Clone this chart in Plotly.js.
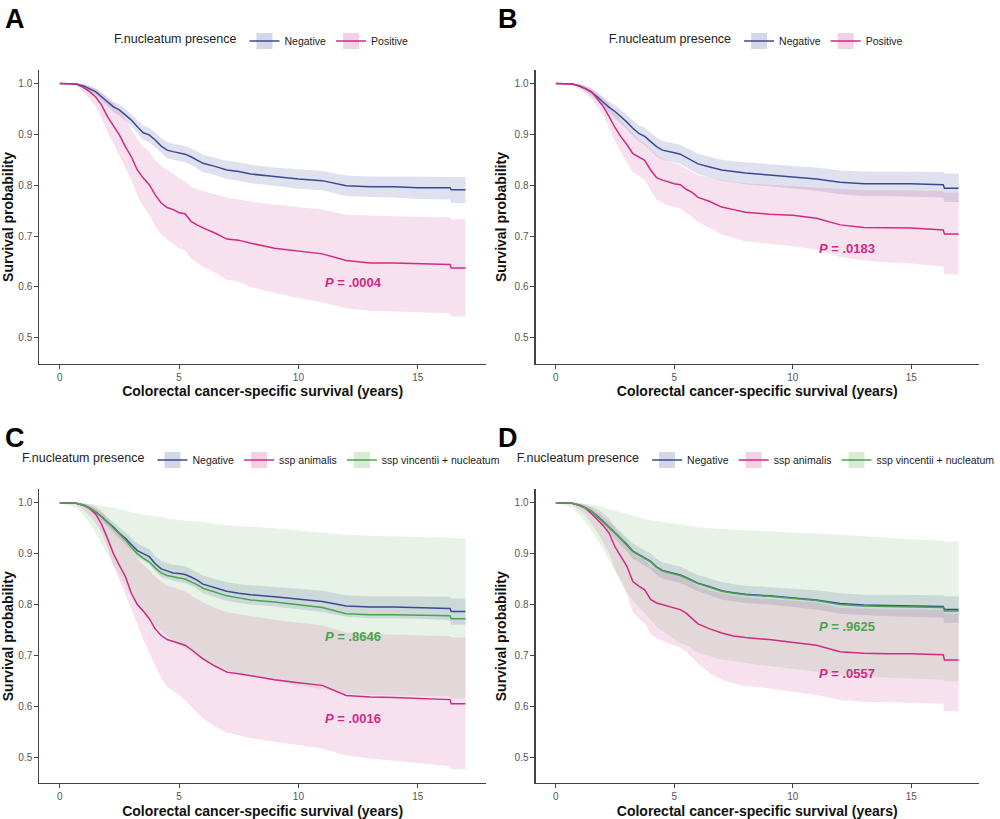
<!DOCTYPE html>
<html>
<head>
<meta charset="utf-8">
<script src="https://cdn.plot.ly/plotly-3.0.1.min.js"></script>
<style>html,body{margin:0;padding:0;background:#fff;}#chart{width:1000px;height:819px;}</style>
</head>
<body>
<div id="chart"></div>
<script>
// Time grid (years)
const times = [0, 0.7, 1.0, 1.25, 1.5, 1.75, 2.0, 2.25, 2.5, 2.75, 3.0, 3.25, 3.5, 3.75, 4.0, 4.25, 4.5, 4.75, 5.0, 5.25, 5.5, 5.75, 6.0, 6.5, 7.0, 7.5, 8, 9, 10, 11, 12, 13, 14, 15, 16.35, 16.4, 17];

// Panel A
const A_neg_surv = [1, 0.999, 0.995, 0.99, 0.984, 0.974, 0.964, 0.954, 0.948, 0.938, 0.928, 0.915, 0.903, 0.899, 0.889, 0.877, 0.869, 0.866, 0.864, 0.861, 0.856, 0.85, 0.843, 0.837, 0.83, 0.827, 0.822, 0.817, 0.812, 0.809, 0.799, 0.797, 0.797, 0.795, 0.795, 0.791, 0.791];
const A_neg_hi = [1, 1, 0.998, 0.995, 0.99, 0.982, 0.973, 0.964, 0.959, 0.95, 0.94, 0.928, 0.917, 0.913, 0.904, 0.892, 0.885, 0.882, 0.88, 0.877, 0.872, 0.867, 0.86, 0.854, 0.848, 0.845, 0.84, 0.835, 0.831, 0.828, 0.819, 0.817, 0.817, 0.816, 0.816, 0.816, 0.816];
const A_neg_lo = [1, 0.997, 0.992, 0.985, 0.978, 0.966, 0.955, 0.944, 0.937, 0.926, 0.916, 0.902, 0.889, 0.885, 0.874, 0.862, 0.853, 0.85, 0.848, 0.845, 0.84, 0.833, 0.826, 0.82, 0.812, 0.809, 0.804, 0.799, 0.793, 0.79, 0.779, 0.777, 0.776, 0.773, 0.772, 0.765, 0.765];
const A_pos_surv = [1, 0.999, 0.992, 0.984, 0.974, 0.958, 0.935, 0.918, 0.899, 0.876, 0.856, 0.83, 0.814, 0.801, 0.781, 0.765, 0.756, 0.752, 0.746, 0.744, 0.729, 0.722, 0.716, 0.706, 0.694, 0.692, 0.686, 0.676, 0.67, 0.665, 0.652, 0.647, 0.647, 0.646, 0.644, 0.637, 0.637];
const A_pos_hi = [1, 1, 0.999, 0.996, 0.99, 0.983, 0.972, 0.962, 0.95, 0.93, 0.908, 0.89, 0.876, 0.866, 0.85, 0.838, 0.83, 0.823, 0.812, 0.808, 0.797, 0.792, 0.788, 0.782, 0.776, 0.772, 0.768, 0.762, 0.757, 0.752, 0.742, 0.74, 0.739, 0.738, 0.737, 0.733, 0.733];
const A_pos_lo = [1, 0.995, 0.982, 0.97, 0.955, 0.932, 0.905, 0.882, 0.857, 0.833, 0.81, 0.78, 0.758, 0.742, 0.72, 0.703, 0.693, 0.685, 0.676, 0.672, 0.656, 0.648, 0.64, 0.628, 0.614, 0.61, 0.6, 0.588, 0.578, 0.57, 0.558, 0.553, 0.552, 0.55, 0.548, 0.542, 0.542];

// Panel B
const B_neg_surv = [1, 0.999, 0.995, 0.99, 0.983, 0.974, 0.963, 0.953, 0.945, 0.935, 0.924, 0.912, 0.902, 0.896, 0.886, 0.876, 0.869, 0.867, 0.864, 0.861, 0.855, 0.849, 0.842, 0.836, 0.83, 0.827, 0.824, 0.82, 0.816, 0.812, 0.806, 0.803, 0.803, 0.803, 0.801, 0.794, 0.794];
const B_neg_hi = [1, 1, 0.998, 0.995, 0.99, 0.982, 0.973, 0.964, 0.957, 0.948, 0.938, 0.927, 0.918, 0.913, 0.903, 0.894, 0.887, 0.885, 0.882, 0.879, 0.874, 0.868, 0.862, 0.856, 0.85, 0.847, 0.845, 0.841, 0.838, 0.835, 0.829, 0.827, 0.827, 0.827, 0.826, 0.823, 0.823];
const B_neg_lo = [1, 0.997, 0.992, 0.985, 0.976, 0.965, 0.953, 0.942, 0.933, 0.922, 0.91, 0.897, 0.886, 0.879, 0.868, 0.857, 0.85, 0.848, 0.845, 0.842, 0.835, 0.829, 0.822, 0.815, 0.809, 0.806, 0.802, 0.798, 0.793, 0.789, 0.782, 0.779, 0.779, 0.778, 0.776, 0.767, 0.767];
const B_pos_surv = [1, 0.999, 0.995, 0.99, 0.984, 0.97, 0.955, 0.935, 0.913, 0.895, 0.88, 0.862, 0.855, 0.849, 0.83, 0.815, 0.81, 0.806, 0.803, 0.801, 0.792, 0.786, 0.776, 0.768, 0.757, 0.752, 0.747, 0.743, 0.741, 0.735, 0.722, 0.717, 0.716, 0.716, 0.712, 0.704, 0.704];
const B_pos_hi = [1, 1, 0.999, 0.996, 0.99, 0.982, 0.972, 0.958, 0.942, 0.928, 0.915, 0.902, 0.89, 0.882, 0.87, 0.86, 0.852, 0.847, 0.843, 0.84, 0.832, 0.826, 0.82, 0.815, 0.81, 0.807, 0.804, 0.801, 0.798, 0.796, 0.792, 0.79, 0.79, 0.789, 0.788, 0.785, 0.785];
const B_pos_lo = [1, 0.996, 0.988, 0.98, 0.97, 0.955, 0.938, 0.913, 0.885, 0.865, 0.845, 0.825, 0.818, 0.81, 0.79, 0.772, 0.765, 0.76, 0.757, 0.754, 0.745, 0.738, 0.727, 0.716, 0.703, 0.697, 0.69, 0.685, 0.68, 0.673, 0.659, 0.652, 0.648, 0.646, 0.64, 0.625, 0.625];

// Panel C
const C_neg_surv = [1, 0.999, 0.995, 0.99, 0.982, 0.973, 0.962, 0.952, 0.94, 0.93, 0.918, 0.906, 0.9, 0.894, 0.88, 0.87, 0.866, 0.862, 0.861, 0.859, 0.854, 0.848, 0.84, 0.833, 0.826, 0.822, 0.819, 0.815, 0.81, 0.806, 0.797, 0.795, 0.795, 0.794, 0.792, 0.786, 0.786];
const C_neg_hi = [1, 1, 0.998, 0.995, 0.989, 0.981, 0.971, 0.962, 0.951, 0.942, 0.931, 0.92, 0.914, 0.909, 0.895, 0.886, 0.882, 0.878, 0.877, 0.875, 0.87, 0.864, 0.857, 0.85, 0.844, 0.84, 0.838, 0.834, 0.83, 0.827, 0.818, 0.816, 0.816, 0.816, 0.815, 0.812, 0.812];
const C_neg_lo = [1, 0.997, 0.992, 0.985, 0.975, 0.965, 0.953, 0.942, 0.929, 0.918, 0.905, 0.892, 0.886, 0.879, 0.865, 0.854, 0.85, 0.846, 0.844, 0.842, 0.837, 0.831, 0.822, 0.815, 0.807, 0.803, 0.8, 0.796, 0.79, 0.785, 0.776, 0.773, 0.773, 0.772, 0.769, 0.76, 0.76];
const C_ani_surv = [1, 0.999, 0.995, 0.989, 0.978, 0.958, 0.93, 0.9, 0.877, 0.855, 0.822, 0.8, 0.787, 0.772, 0.752, 0.739, 0.731, 0.727, 0.723, 0.72, 0.712, 0.703, 0.693, 0.679, 0.667, 0.664, 0.66, 0.652, 0.646, 0.641, 0.621, 0.618, 0.617, 0.615, 0.613, 0.605, 0.605];
const C_ani_hi = [1, 1, 0.999, 0.997, 0.993, 0.985, 0.97, 0.952, 0.938, 0.924, 0.905, 0.89, 0.878, 0.868, 0.855, 0.845, 0.838, 0.834, 0.83, 0.826, 0.818, 0.811, 0.804, 0.793, 0.785, 0.781, 0.777, 0.77, 0.764, 0.759, 0.745, 0.742, 0.741, 0.739, 0.738, 0.735, 0.735];
const C_ani_lo = [1, 0.996, 0.985, 0.975, 0.96, 0.94, 0.912, 0.875, 0.848, 0.82, 0.79, 0.76, 0.73, 0.705, 0.68, 0.655, 0.638, 0.63, 0.622, 0.612, 0.6, 0.588, 0.576, 0.56, 0.548, 0.543, 0.537, 0.53, 0.524, 0.517, 0.503, 0.497, 0.493, 0.488, 0.482, 0.476, 0.476];
const C_vin_surv = [1, 0.999, 0.995, 0.99, 0.982, 0.973, 0.962, 0.951, 0.939, 0.927, 0.912, 0.9, 0.891, 0.884, 0.872, 0.862, 0.857, 0.854, 0.852, 0.85, 0.845, 0.839, 0.832, 0.825, 0.817, 0.813, 0.809, 0.805, 0.8, 0.794, 0.782, 0.78, 0.78, 0.779, 0.778, 0.772, 0.772];
const C_vin_hi = [1, 1, 0.999, 0.998, 0.996, 0.994, 0.993, 0.99, 0.987, 0.985, 0.982, 0.979, 0.977, 0.975, 0.973, 0.971, 0.969, 0.968, 0.966, 0.965, 0.964, 0.963, 0.962, 0.959, 0.956, 0.955, 0.953, 0.95, 0.946, 0.942, 0.937, 0.935, 0.934, 0.932, 0.931, 0.93, 0.93];
const C_vin_lo = [1, 0.99, 0.975, 0.96, 0.94, 0.92, 0.9, 0.878, 0.858, 0.838, 0.815, 0.798, 0.784, 0.772, 0.76, 0.748, 0.739, 0.73, 0.72, 0.714, 0.706, 0.698, 0.69, 0.68, 0.67, 0.666, 0.66, 0.65, 0.64, 0.634, 0.625, 0.622, 0.621, 0.62, 0.619, 0.615, 0.615];

// Panel D
const D_neg_surv = [1, 0.999, 0.995, 0.99, 0.983, 0.974, 0.963, 0.952, 0.942, 0.93, 0.918, 0.905, 0.898, 0.892, 0.885, 0.874, 0.867, 0.864, 0.861, 0.858, 0.853, 0.848, 0.842, 0.835, 0.827, 0.823, 0.82, 0.817, 0.813, 0.809, 0.802, 0.799, 0.798, 0.797, 0.796, 0.79, 0.79];
const D_neg_hi = [1, 1, 0.998, 0.995, 0.99, 0.982, 0.972, 0.962, 0.954, 0.943, 0.932, 0.92, 0.913, 0.907, 0.9, 0.89, 0.883, 0.88, 0.877, 0.874, 0.869, 0.864, 0.858, 0.851, 0.844, 0.84, 0.837, 0.834, 0.831, 0.828, 0.822, 0.819, 0.819, 0.818, 0.818, 0.816, 0.816];
const D_neg_lo = [1, 0.997, 0.992, 0.985, 0.976, 0.966, 0.954, 0.942, 0.93, 0.917, 0.904, 0.89, 0.883, 0.877, 0.87, 0.858, 0.851, 0.848, 0.845, 0.842, 0.837, 0.832, 0.826, 0.818, 0.81, 0.806, 0.803, 0.8, 0.795, 0.79, 0.782, 0.779, 0.777, 0.776, 0.774, 0.764, 0.764];
const D_ani_surv = [1, 0.999, 0.995, 0.99, 0.979, 0.968, 0.955, 0.94, 0.913, 0.894, 0.875, 0.845, 0.836, 0.829, 0.81, 0.803, 0.8, 0.797, 0.794, 0.79, 0.783, 0.772, 0.762, 0.752, 0.744, 0.738, 0.735, 0.731, 0.726, 0.72, 0.707, 0.704, 0.703, 0.703, 0.701, 0.691, 0.691];
const D_ani_hi = [1, 1, 0.999, 0.997, 0.992, 0.988, 0.98, 0.97, 0.95, 0.936, 0.925, 0.9, 0.893, 0.888, 0.874, 0.869, 0.867, 0.865, 0.863, 0.86, 0.854, 0.844, 0.835, 0.827, 0.822, 0.817, 0.814, 0.811, 0.808, 0.804, 0.793, 0.791, 0.79, 0.79, 0.789, 0.782, 0.782];
const D_ani_lo = [1, 0.996, 0.986, 0.976, 0.958, 0.942, 0.922, 0.9, 0.87, 0.845, 0.82, 0.785, 0.772, 0.763, 0.742, 0.733, 0.728, 0.724, 0.72, 0.715, 0.707, 0.695, 0.684, 0.665, 0.652, 0.645, 0.64, 0.635, 0.628, 0.622, 0.612, 0.609, 0.608, 0.607, 0.605, 0.59, 0.59];
const D_vin_surv = [1, 0.999, 0.995, 0.99, 0.983, 0.973, 0.962, 0.951, 0.941, 0.929, 0.917, 0.904, 0.897, 0.891, 0.884, 0.873, 0.866, 0.863, 0.86, 0.857, 0.852, 0.847, 0.841, 0.834, 0.826, 0.822, 0.819, 0.816, 0.812, 0.808, 0.8, 0.797, 0.796, 0.795, 0.794, 0.787, 0.787];
const D_vin_hi = [1, 1, 0.999, 0.998, 0.997, 0.995, 0.991, 0.988, 0.985, 0.982, 0.979, 0.975, 0.972, 0.968, 0.966, 0.963, 0.961, 0.96, 0.959, 0.958, 0.956, 0.954, 0.952, 0.95, 0.948, 0.947, 0.946, 0.944, 0.941, 0.939, 0.937, 0.934, 0.931, 0.928, 0.926, 0.924, 0.924];
const D_vin_lo = [1, 0.99, 0.975, 0.962, 0.945, 0.928, 0.908, 0.885, 0.865, 0.845, 0.825, 0.808, 0.795, 0.782, 0.77, 0.757, 0.748, 0.74, 0.731, 0.725, 0.72, 0.713, 0.705, 0.698, 0.692, 0.689, 0.685, 0.679, 0.673, 0.668, 0.662, 0.658, 0.656, 0.654, 0.652, 0.649, 0.649];

// Labels
const legendTitle = 'F.nucleatum presence';
const panelLabels = ['A', 'B', 'C', 'D'];
const pValues = {A: ['P = .0004'], B: ['P = .0183'], C: ['P = .8646', 'P = .0016'], D: ['P = .9625', 'P = .0557']};
const xTicks = [0, 5, 10, 15];
const yTicks = [0.5, 0.6, 0.7, 0.8, 0.9, 1.0];
const xTitle = 'Colorectal cancer-specific survival (years)';
const yTitle = 'Survival probability';

// Styles
const BLUE = '#3B4994', PINK = '#CF2A86', GREEN = '#4AA54A';
const BLUE_F = 'rgba(59,73,148,0.16)', PINK_F = 'rgba(207,42,134,0.14)', GREEN_F = 'rgba(74,165,74,0.13)';
const FONT = 'Liberation Sans, Arial, Helvetica, sans-serif';

const panels = [
  {key: 'A', x: 'x', y: 'y', legend: 'legend', groups: [
    {name: 'Negative', s: A_neg_surv, lo: A_neg_lo, hi: A_neg_hi, c: BLUE, f: BLUE_F},
    {name: 'Positive', s: A_pos_surv, lo: A_pos_lo, hi: A_pos_hi, c: PINK, f: PINK_F}]},
  {key: 'B', x: 'x2', y: 'y2', legend: 'legend2', groups: [
    {name: 'Negative', s: B_neg_surv, lo: B_neg_lo, hi: B_neg_hi, c: BLUE, f: BLUE_F},
    {name: 'Positive', s: B_pos_surv, lo: B_pos_lo, hi: B_pos_hi, c: PINK, f: PINK_F}]},
  {key: 'C', x: 'x3', y: 'y3', legend: 'legend3', groups: [
    {name: 'Negative', s: C_neg_surv, lo: C_neg_lo, hi: C_neg_hi, c: BLUE, f: BLUE_F},
    {name: 'ssp animalis', s: C_ani_surv, lo: C_ani_lo, hi: C_ani_hi, c: PINK, f: PINK_F},
    {name: 'ssp vincentii + nucleatum', s: C_vin_surv, lo: C_vin_lo, hi: C_vin_hi, c: GREEN, f: GREEN_F}]},
  {key: 'D', x: 'x4', y: 'y4', legend: 'legend4', groups: [
    {name: 'Negative', s: D_neg_surv, lo: D_neg_lo, hi: D_neg_hi, c: BLUE, f: BLUE_F},
    {name: 'ssp animalis', s: D_ani_surv, lo: D_ani_lo, hi: D_ani_hi, c: PINK, f: PINK_F},
    {name: 'ssp vincentii + nucleatum', s: D_vin_surv, lo: D_vin_lo, hi: D_vin_hi, c: GREEN, f: GREEN_F}]}
];

const traces = [];
panels.forEach(p => {
  // confidence bands
  p.groups.forEach(g => {
    traces.push({x: times, y: g.lo, xaxis: p.x, yaxis: p.y, mode: 'lines', line: {width: 0},
      showlegend: false, hoverinfo: 'skip'});
    traces.push({x: times, y: g.hi, xaxis: p.x, yaxis: p.y, mode: 'lines', line: {width: 0},
      fill: 'tonexty', fillcolor: g.f, showlegend: false, hoverinfo: 'skip'});
  });
  // survival lines
  p.groups.forEach(g => {
    traces.push({x: times, y: g.s, xaxis: p.x, yaxis: p.y, mode: 'lines', name: g.name,
      line: {color: g.c, width: 1.5}, showlegend: false});
  });
  // legend entries
  p.groups.forEach(g => {
    traces.push({x: [null], y: [null], xaxis: p.x, yaxis: p.y, mode: 'lines+markers', name: g.name,
      legend: p.legend, line: {color: g.c, width: 1.6},
      marker: {symbol: 'square', size: 18, color: g.f.replace(/0\.1\d\)/, '0.22)'), line: {width: 0}},
      hoverinfo: 'skip'});
  });
});

const xDomL = [0.040, 0.4927], xDomR = [0.5433, 0.9927];
const yDomT = [0.5556, 0.9145], yDomB = [0.0436, 0.4026];

function xa(dom, anchor) {
  return {domain: dom, anchor: anchor, range: [-0.85, 17.85], tickvals: xTicks, ticks: 'outside', ticklen: 4,
    tickcolor: '#444', tickwidth: 1, showline: true, linecolor: '#444', linewidth: 1.2, showgrid: false,
    zeroline: false, tickfont: {family: FONT, size: 10, color: '#555'},
    title: {text: xTitle, standoff: 4, font: {family: FONT, size: 14, color: '#111', weight: 'bold'}}};
}
function ya(dom, anchor) {
  return {domain: dom, anchor: anchor, range: [0.4485, 1.0265], tickvals: yTicks, tickformat: '.1f', ticks: 'outside',
    ticklen: 4, tickcolor: '#444', tickwidth: 1, showline: true, linecolor: '#444', linewidth: 1.2,
    showgrid: false, zeroline: false, tickfont: {family: FONT, size: 10, color: '#555'},
    title: {text: yTitle, standoff: 4, font: {family: FONT, size: 14, color: '#111', weight: 'bold'}}};
}

function leg(xc, yc) {
  return {x: xc, y: yc, xanchor: 'center', yanchor: 'middle', orientation: 'h', traceorder: 'normal',
    bgcolor: 'rgba(0,0,0,0)', font: {family: FONT, size: 10.5, color: '#222'},
    title: {text: legendTitle, side: 'left', font: {family: FONT, size: 12.5, color: '#222'}},
    itemclick: false, itemdoubleclick: false, tracegroupgap: 0};
}

const annotations = [];
const labelPos = [[0.003, 0.998], [0.503, 0.998], [0.003, 0.486], [0.503, 0.486]];
panelLabels.forEach((t, i) => {
  annotations.push({text: '<b>' + t + '</b>', xref: 'paper', yref: 'paper', x: labelPos[i][0], y: labelPos[i][1],
    xanchor: 'left', yanchor: 'top', showarrow: false, font: {family: FONT, size: 27, color: '#000'}});
});
function pAnn(txt, xr, yr, yv, col) {
  const parts = txt.split(' = ');
  annotations.push({text: '<b><i>' + parts[0] + '</i> = ' + parts[1] + '</b>', xref: xr, yref: yr, x: 12.3, y: yv,
    showarrow: false, font: {family: FONT, size: 13, color: col}});
}
pAnn(pValues.A[0], 'x', 'y', 0.609, PINK);
pAnn(pValues.B[0], 'x2', 'y2', 0.675, PINK);
pAnn(pValues.C[0], 'x3', 'y3', 0.737, GREEN);
pAnn(pValues.C[1], 'x3', 'y3', 0.576, PINK);
pAnn(pValues.D[0], 'x4', 'y4', 0.756, GREEN);
pAnn(pValues.D[1], 'x4', 'y4', 0.664, PINK);

const layout = {
  width: 1000, height: 819, margin: {l: 0, r: 0, t: 0, b: 0},
  paper_bgcolor: '#fff', plot_bgcolor: '#fff', font: {family: FONT},
  xaxis: xa(xDomL, 'y'), yaxis: ya(yDomT, 'x'),
  xaxis2: xa(xDomR, 'y2'), yaxis2: ya(yDomT, 'x2'),
  xaxis3: xa(xDomL, 'y3'), yaxis3: ya(yDomB, 'x3'),
  xaxis4: xa(xDomR, 'y4'), yaxis4: ya(yDomB, 'x4'),
  legend: leg((xDomL[0] + xDomL[1]) / 2, 0.95),
  legend2: leg((xDomR[0] + xDomR[1]) / 2, 0.95),
  legend3: leg((xDomL[0] + xDomL[1]) / 2, 0.4383),
  legend4: leg((xDomR[0] + xDomR[1]) / 2, 0.4383),
  annotations: annotations,
  showlegend: true
};

Plotly.newPlot('chart', traces, layout, {displayModeBar: false, staticPlot: true});
</script>
</body>
</html>
